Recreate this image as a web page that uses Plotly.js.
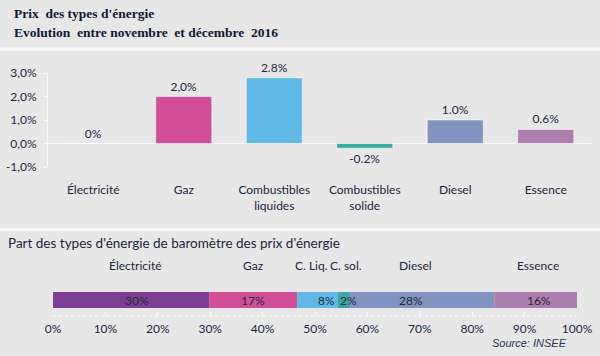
<!DOCTYPE html>
<html>
<head>
<meta charset="utf-8">
<script src="https://cdn.plot.ly/plotly-3.0.1.min.js"></script>
<style>html,body{margin:0;padding:0;background:#e7e7e7;}#chart{width:600px;height:356px;}</style>
</head>
<body>
<div id="chart"></div>
<script>
// ---- Data: price evolution (top chart) ----
const categories = ['Électricité', 'Gaz', 'Combustibles<br>liquides', 'Combustibles<br>solide', 'Diesel', 'Essence'];
const evolution = [0, 2.0, 2.8, -0.2, 1.0, 0.6];
const evolutionLabels = ['0%', '2,0%', '2.8%', '-0.2%', '1.0%', '0.6%'];
const yTickVals = [-1, 0, 1, 2, 3];
const yTickText = ['-1,0%', '0,0%', '1,0%', '2,0%', '3,0%'];

// ---- Data: share in the barometer (bottom chart) ----
const shareNames = ['Électricité', 'Gaz', 'C. Liq.', 'C. sol.', 'Diesel', 'Essence'];
const shareValues = [29.8, 16.8, 7.8, 2.1, 27.7, 15.8];
const shareLabels = ['30%', '17%', '8%', '2%', '28%', '16%'];
const xTickVals = [0, 10, 20, 30, 40, 50, 60, 70, 80, 90, 100];
const xTickText = ['0%', '10%', '20%', '30%', '40%', '50%', '60%', '70%', '80%', '90%', '100%'];

// ---- Styles ----
const colors = ['#7b3e90', '#d24f98', '#60b9e7', '#38a9a1', '#8193bf', '#ac7fae'];
const textColor = '#1c2540';
const W = 600, H = 356;
const py = p => 1 - p / H;
const px = p => p / W;
const catFont = 'Lato, "Open Sans", sans-serif';

const traces = [];
// top bar chart
traces.push({
  type: 'bar', x: categories, y: evolution,
  xaxis: 'x', yaxis: 'y',
  marker: { color: colors, line: { color: 'rgba(255,255,255,0.6)', width: 1 } },
  text: evolutionLabels, textposition: 'outside', cliponaxis: false,
  textfont: { family: catFont, size: 12, color: textColor },
  hoverinfo: 'skip', showlegend: false
});
// bottom stacked bar
const labelXShift = [6, 0, 9, 5, -11, 3];
const nameXShift = [4, 0, -6, 2, -6, 2];
const annotations = [];
let cum = 0;
shareValues.forEach((v, i) => {
  traces.push({
    type: 'bar', orientation: 'h', x: [v], y: [0], base: cum, width: 1,
    xaxis: 'x2', yaxis: 'y2',
    marker: { color: colors[i], line: { width: 0 } },
    hoverinfo: 'skip', showlegend: false
  });
  const mid = cum + v / 2;
  annotations.push({ xref: 'x2', yref: 'y2', x: mid, y: 0, text: shareLabels[i], showarrow: false,
    xshift: labelXShift[i], font: { family: catFont, size: 12, color: '#26263a' } });
  annotations.push({ xref: 'x2', yref: 'paper', x: mid, y: py(265), text: shareNames[i], showarrow: false,
    xshift: nameXShift[i], yanchor: 'middle', font: { family: catFont, size: 12, color: textColor } });
  cum += v;
});

annotations.push(
  { xref: 'paper', yref: 'paper', x: px(12), y: py(14), xanchor: 'left', yanchor: 'middle', showarrow: false,
    text: "<b>Prix  des types d'énergie</b>", font: { family: '"Liberation Serif", serif', size: 13.5, color: '#0f1836' } },
  { xref: 'paper', yref: 'paper', x: px(12), y: py(32), xanchor: 'left', yanchor: 'middle', showarrow: false,
    text: "<b>Evolution  entre novembre  et décembre  2016</b>", font: { family: '"Liberation Serif", serif', size: 13.5, color: '#0f1836' } },
  { xref: 'paper', yref: 'paper', x: px(6), y: py(243), xanchor: 'left', yanchor: 'middle', showarrow: false,
    text: "Part des types d'énergie de baromètre des prix d'énergie", font: { family: catFont, size: 13.5, color: textColor } },
  { xref: 'paper', yref: 'paper', x: px(569), y: py(343), xanchor: 'right', yanchor: 'middle', showarrow: false,
    text: "<i>Source: INSEE</i>", font: { family: '"Liberation Sans", Arial, sans-serif', size: 11, color: '#2a3550' } }
);

const layout = {
  width: W, height: H,
  margin: { l: 0, r: 0, t: 0, b: 0 },
  paper_bgcolor: '#e7e7e7', plot_bgcolor: 'rgba(0,0,0,0)',
  bargap: 0.38,
  barmode: 'overlay',
  xaxis: {
    domain: [px(48), px(591)], anchor: 'y', fixedrange: true,
    showline: false, showgrid: false, ticks: '', ticklabelstandoff: 14,
    tickfont: { family: catFont, size: 12, color: textColor }
  },
  yaxis: {
    domain: [py(167), py(73)], anchor: 'x', range: [-1, 3], fixedrange: true,
    tickvals: yTickVals, ticktext: yTickText,
    showgrid: false, zeroline: true, zerolinecolor: '#fafafa', zerolinewidth: 1,
    showline: true, linecolor: '#fafafa', linewidth: 1,
    ticks: 'outside', ticklen: 3, tickcolor: '#fafafa', ticklabelstandoff: 5,
    tickfont: { family: catFont, size: 12, color: textColor }
  },
  xaxis2: {
    domain: [px(53), px(577)], anchor: 'y2', range: [0, 100], fixedrange: true,
    tickvals: xTickVals, ticktext: xTickText,
    showgrid: false, zeroline: false, showline: false,
    ticks: 'inside', ticklen: 4, tickcolor: '#fafafa', ticklabelstandoff: 4,
    tickfont: { family: catFont, size: 12, color: textColor }
  },
  yaxis2: {
    domain: [py(316), py(284)], anchor: 'x2', range: [-1, 1], fixedrange: true,
    showticklabels: false, showgrid: false, zeroline: false, showline: false, ticks: ''
  },
  shapes: [
    { type: 'rect', xref: 'paper', yref: 'paper', x0: 0, x1: 1, y0: py(50.5), y1: py(47.5), fillcolor: '#fbfbfb', line: { width: 0 }, layer: 'below' },
    { type: 'rect', xref: 'paper', yref: 'paper', x0: 0, x1: 1, y0: py(231), y1: py(228), fillcolor: '#fbfbfb', line: { width: 0 }, layer: 'below' },
    { type: 'line', xref: 'x2 domain', yref: 'paper', x0: 0, x1: 1, y0: py(316), y1: py(316), line: { color: '#fafafa', width: 1, dash: 'dot' } }
  ],
  annotations: annotations
};

Plotly.newPlot('chart', traces, layout, { displayModeBar: false, staticPlot: true });
</script>
</body>
</html>
